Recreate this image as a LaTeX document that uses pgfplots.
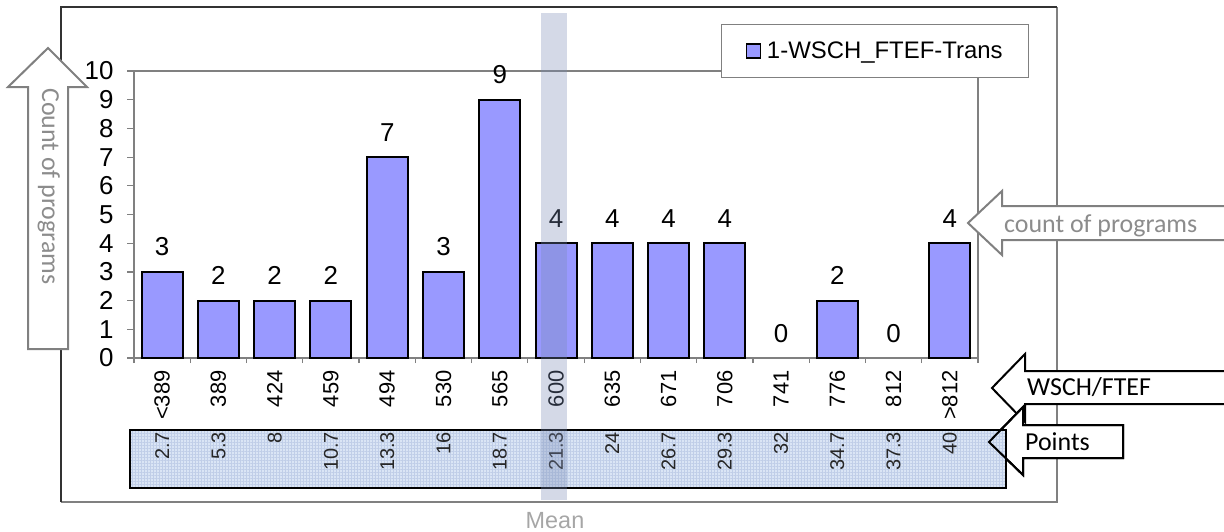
\documentclass[border=0pt]{standalone}
\usepackage{fontspec}
\setmainfont{Liberation Sans}
\newfontfamily\calibri{Carlito}
\usepackage{pgfplots}
\pgfplotsset{compat=1.18}
\usetikzlibrary{patterns.meta}
\definecolor{barcol}{RGB}{153,153,255}
\definecolor{framegray}{RGB}{128,128,128}
\definecolor{txtgray}{RGB}{140,140,140}
\definecolor{meangray}{RGB}{166,166,166}
\definecolor{meancol}{RGB}{120,138,180}
\definecolor{boxfill}{RGB}{218,229,245}
\definecolor{boxgrid}{RGB}{192,206,232}
\begin{document}
\begin{tikzpicture}
\useasboundingbox (0,0) rectangle (1224bp,-532bp);
\begin{scope}[x=1bp,y=-1bp]
\draw[framegray, line width=1.5bp] (1057,7) -- (1057,502) -- (61,502);
\draw[black!80, line width=1.2bp] (61,502) -- (61,7) -- (1057,7);
\end{scope}
\begin{axis}[
  at={(134bp,-358bp)}, anchor=south west,
  scale only axis, width=844bp, height=287bp,
  xmin=-0.5, xmax=14.5, ymin=0, ymax=10,
  ybar, bar width=41bp,
  axis line style={draw=framegray, line width=1.5bp},
  tick align=outside,
  xtick={-0.5,0.5,...,14.5},
  x tick label as interval,
  xticklabels={{<389},389,424,459,494,530,565,600,635,671,706,741,776,812,{>812}},
  ytick={0,...,10},
  xtick pos=bottom, ytick pos=left,
  xtick style={draw=framegray, line width=1.2bp, /pgfplots/major tick length=5bp},
  ytick style={draw=framegray, line width=1.2bp, /pgfplots/major tick length=7bp},
  /pgf/number format/assume math mode=true,
  yticklabel style={font=\fontsize{26}{26}\selectfont, anchor=east, inner sep=0pt, xshift=-16bp},
  xticklabel shift=8bp,
  xticklabel style={font=\fontsize{22}{22}\selectfont, rotate=90, anchor=east, inner sep=0pt},
  nodes near coords,
  every node near coord/.append style={font=\fontsize{26}{26}\selectfont, anchor=base, yshift=16bp, inner sep=0pt, text=black},
  legend style={at={(axis description cs:0.6955,1.1638)}, anchor=north west,
    draw=framegray, line width=1bp, fill=white, font=\fontsize{24}{24}\selectfont,
    inner xsep=24bp, inner ysep=15.5bp, column sep=4bp},
  legend image code/.code={\draw[fill=barcol, draw=black, line width=1.5bp] (0bp,-7bp) rectangle (14bp,7bp);},
]
\addplot[fill=barcol, draw=black, line width=2bp, bar shift=0pt]
  coordinates {(0,3) (1,2) (2,2) (3,2) (4,7) (5,3) (6,9) (7,4) (8,4) (9,4) (10,4) (12,2) (14,4)};
\addlegendentry{1-WSCH\_FTEF-Trans}
\addplot[draw=none, fill=none, bar shift=0pt, forget plot]
  coordinates {(11,0) (13,0)};
\end{axis}
\begin{scope}[x=1bp,y=-1bp]
% WSCH arrow
\filldraw[fill=white, draw=black, line width=2bp] (992,388) -- (1025,354) -- (1025,371) -- (1240,371) -- (1240,404) -- (1025,404) -- (1025,422) -- cycle;
% Points arrow (fill)
\filldraw[fill=white, draw=black, line width=2bp] (989,442) -- (1023,407) -- (1023,425) -- (1123,425) -- (1123,458) -- (1023,458) -- (1023,475) -- cycle;
% Points box
\fill[boxfill] (130,430) rectangle (1006,488);
\fill[pattern={Lines[angle=0,distance=3bp,line width=0.4bp]}, pattern color=boxgrid] (130,430) rectangle (1006,488);
\fill[pattern={Lines[angle=90,distance=3bp,line width=0.4bp]}, pattern color=boxgrid] (130,430) rectangle (1006,488);
\draw[black, line width=2.5bp] (130,430) rectangle (1006,488);
\end{scope}
\begin{axis}[
  at={(134bp,-432bp)}, anchor=south west,
  scale only axis, width=844bp, height=20bp,
  xmin=-0.5, xmax=14.5, ymin=0, ymax=1,
  axis line style={draw=none},
  ytick=\empty,
  xtick={0,...,14},
  xticklabels={2.7,5.3,8,10.7,13.3,16,18.7,21.3,24,26.7,29.3,32,34.7,37.3,40},
  major tick length=0pt,
  xticklabel style={font=\fontsize{20}{20}\selectfont, rotate=90, anchor=east, inner sep=0pt, text=black!85},
]
\end{axis}
\begin{scope}[x=1bp,y=-1bp]
\draw[black, line width=2bp] (989,442) -- (1023,407) -- (1023,425) -- (1123,425) -- (1123,458) -- (1023,458) -- (1023,475) -- cycle;
% mean band
\fill[meancol, fill opacity=0.32] (541,13) rectangle (567,500);
\node[anchor=base, inner sep=0pt, text=meangray, font=\fontsize{23.5}{23.5}\selectfont] at (555,528) {Mean};
% left arrow
\filldraw[fill=white, draw=framegray, line width=2bp] (48,48) -- (87,87) -- (68,87) -- (68,349) -- (28,349) -- (28,87) -- (8,87) -- cycle;
\node[rotate=-90, anchor=base west, inner sep=0pt, text=txtgray, font=\calibri\fontsize{26}{26}\selectfont] at (42,88) {Count of programs};
% right count arrow
\filldraw[fill=white, draw=framegray, line width=2bp] (968,223) -- (1002,191) -- (1002,206) -- (1240,206) -- (1240,240) -- (1002,240) -- (1002,255) -- cycle;
\node[anchor=base west, inner sep=0pt, text=txtgray, font=\calibri\fontsize{26}{26}\selectfont] at (1004,232) {count of programs};
\node[anchor=base west, inner sep=0pt, text=black, font=\calibri\fontsize{26}{26}\selectfont] at (1027,395) {WSCH/FTEF};
\node[anchor=base west, inner sep=0pt, text=black, font=\calibri\fontsize{26}{26}\selectfont] at (1025,450) {Points};
\end{scope}
\end{tikzpicture}
\end{document}
